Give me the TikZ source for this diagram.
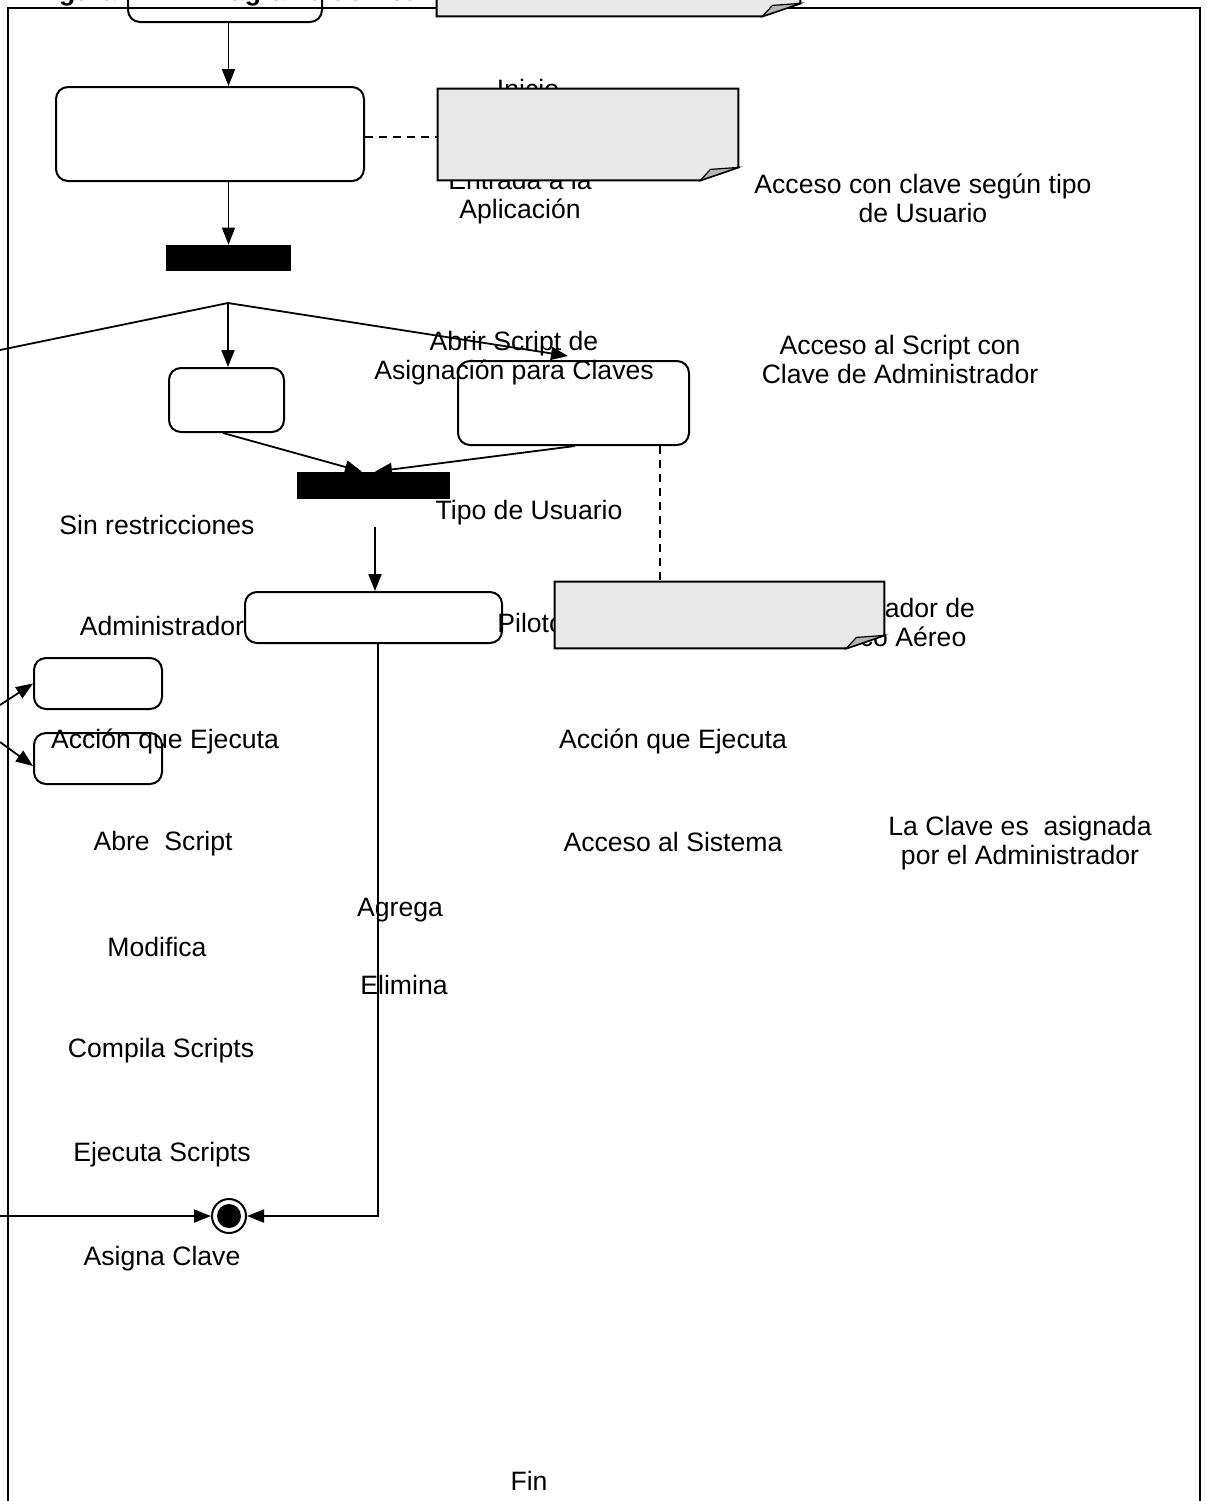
\documentclass[tikz,border=0pt]{standalone}
\usepackage{fontspec}
\setmainfont{Liberation Sans}
\usetikzlibrary{arrows.meta}
\definecolor{notegray}{HTML}{E8E8E8}
\definecolor{foldgray}{HTML}{B4B4B4}

% sticky note with a folded bottom-right corner, drawn on a named node
\newcommand\foldnote[1]{%
  \filldraw[fill=notegray, line width=1pt]
    (#1.north west) -- (#1.north east) -- ([yshift=6.5pt]#1.south east)
    -- ([xshift=-19pt]#1.south east) -- (#1.south west) -- cycle;
  \filldraw[fill=foldgray, line width=0.6pt]
    ([xshift=-19pt]#1.south east) -- ([xshift=-14pt,yshift=5.5pt]#1.south east)
    -- ([yshift=6.5pt]#1.south east) -- cycle;}

\begin{document}
\begin{tikzpicture}[x=0.5pt,y=-0.5pt,
  actbox/.style={draw, line width=1pt, rounded corners=6pt, inner sep=0pt},
  notebox/.style={inner sep=0pt},
  syncbar/.style={fill=black, inner sep=0pt},
  lbl/.style={font=\fontsize{13.3pt}{14.5pt}\selectfont, align=center, inner sep=0pt},
  flow/.style={line width=0.9pt, -{Triangle[length=8.5pt,width=6.5pt]}},
  link/.style={line width=0.9pt, dash pattern=on 4pt off 3pt},
]
\useasboundingbox (0,0) rectangle (1209,1501);

% caption, mostly above the page edge
\node[anchor=base west, inner sep=0pt, font=\bfseries\fontsize{13.3pt}{14pt}\selectfont] (titA) at (35,0) {Figura 4.};
\node[anchor=base west, inner sep=0pt, font=\bfseries\fontsize{13.3pt}{14pt}\selectfont] (titB) at (203,0) {Diagrama de Actividad};

% frame
\draw[line width=1pt] (8,1530) -- (8,8) -- (1200,8) -- (1200,1530);

% labels lying under the notes
\node[lbl] (tInicio) at (528,89) {Inicio};
\node[lbl] (tEntrada) at (520,197) {Entrada a la\\Aplicación};
\node[lbl, anchor=west] (tPiloto) at (497,623) {Piloto};
\node[lbl] (tControl) at (887,622) {Controlador de\\Tráfico Aéreo};

% states
\node[actbox, minimum width=97pt, minimum height=31pt] (inicio) at (225,-9) {};
\node[actbox, minimum width=154pt, minimum height=47pt] (entrada) at (210,134) {};
\node[syncbar, minimum width=62.5pt, minimum height=13pt] (bar1) at (228.5,258) {};
\node[actbox, minimum width=57.5pt, minimum height=32pt] (sinres) at (226.5,400) {};
\node[actbox, minimum width=115.5pt, minimum height=42pt] (abrir) at (573.5,403) {};
\node[syncbar, minimum width=76.5pt, minimum height=13.5pt] (bar2) at (373.5,485.5) {};
\node[actbox, minimum width=128.5pt, minimum height=25.5pt] (tipo) at (373.5,617.5) {};
\node[actbox, minimum width=64pt, minimum height=25.5pt] (admA) at (98,683.5) {};
\node[actbox, minimum width=64pt, minimum height=25.5pt] (admB) at (98,758.5) {};
\node[circle, draw, line width=1pt, fill=white, minimum size=17pt, inner sep=0pt] (fin) at (229,1216) {};
\fill (fin) circle (6pt);

% notes
\node[notebox, minimum width=181.5pt, minimum height=23pt] (nota1) at (618.5,-7) {};
\node[notebox, minimum width=150pt, minimum height=45.5pt] (nota2) at (588,134.5) {};
\node[notebox, minimum width=164.5pt, minimum height=33pt] (nota3) at (719.5,615) {};
\foldnote{nota1}
\foldnote{nota2}
\foldnote{nota3}

% free ends and bends
\coordinate (fork) at (228,303);
\coordinate (izq) at (0,350);
\coordinate (haciaAbrir) at (568,356);
\coordinate (desdeBar2) at (375,527);
\coordinate (entA) at (0,705);
\coordinate (entB) at (0,742);
\coordinate (entFin) at (0,1216);

% transitions
\draw[flow] (bar1.north |- inicio.south) -- (bar1.north |- entrada.north);
\draw[flow] (bar1.north |- entrada.south) -- (bar1.north);
\draw[line width=0.9pt] (fork) -- (izq);
\draw[flow] (fork) -- (fork |- sinres.north);
\draw[flow] (fork) -- (haciaAbrir);
\draw[flow] ([xshift=-1.75pt]sinres.south) -- ([xshift=-5.75pt]bar2.north);
\draw[flow] ([xshift=0.75pt]abrir.south) -- ([xshift=0.75pt]bar2.north);
\draw[flow] (desdeBar2) -- (desdeBar2 |- tipo.north);
\draw[flow] (entA) -- (admA.west);
\draw[flow] (entB) -- ([yshift=-3.75pt]admB.west);
\draw[flow] ([xshift=2.25pt]tipo.south) |- (fin.east);
\draw[flow] (entFin) -- (fin.west);

% note anchors
\draw[link] (entrada.east |- 0,137) -- (nota2.west |- 0,137);
\draw[link] (abrir.south -| 660,0) -- (nota3.north -| 660,0);

% labels
\node[lbl] (tAcceso) at (923,198) {Acceso con clave según tipo\\de Usuario};
\node[lbl] (tAbrir) at (514,358) {Abrir Script de\\Asignación para Claves};
\node[lbl] (tAccScript) at (900,359) {Acceso al Script con\\Clave de Administrador};
\node[lbl] (tSinres) at (157,525) {Sin restricciones};
\node[lbl] (tTipo) at (529,513) {Tipo de Usuario};
\node[lbl] (tAdmin) at (162,626) {Administrador};
\node[lbl] (tAccionA) at (165,741) {Acción que Ejecuta};
\node[lbl] (tAccionB) at (673,741) {Acción que Ejecuta};
\node[lbl] (tAbre) at (163,844) {Abre~ Script};
\node[lbl] (tSistema) at (673,842) {Acceso al Sistema};
\begin{scope}
  \clip (850,790) rectangle (1200,869);
  \node[lbl] (tClave) at (1020,843) {La Clave es~ asignada\\por el Administrador};
\end{scope}
\node[lbl] (tAgrega) at (400,910) {Agrega};
\node[lbl] (tElimina) at (404,985) {Elimina};
\node[lbl] (tModifica) at (157,947) {Modifica};
\node[lbl] (tCompila) at (161,1051) {Compila Scripts};
\node[lbl] (tEjecuta) at (162,1155) {Ejecuta Scripts};
\node[lbl] (tAsigna) at (162,1259) {Asigna Clave};
\node[lbl] (tFin) at (529,1481) {Fin};
\end{tikzpicture}
\end{document}
